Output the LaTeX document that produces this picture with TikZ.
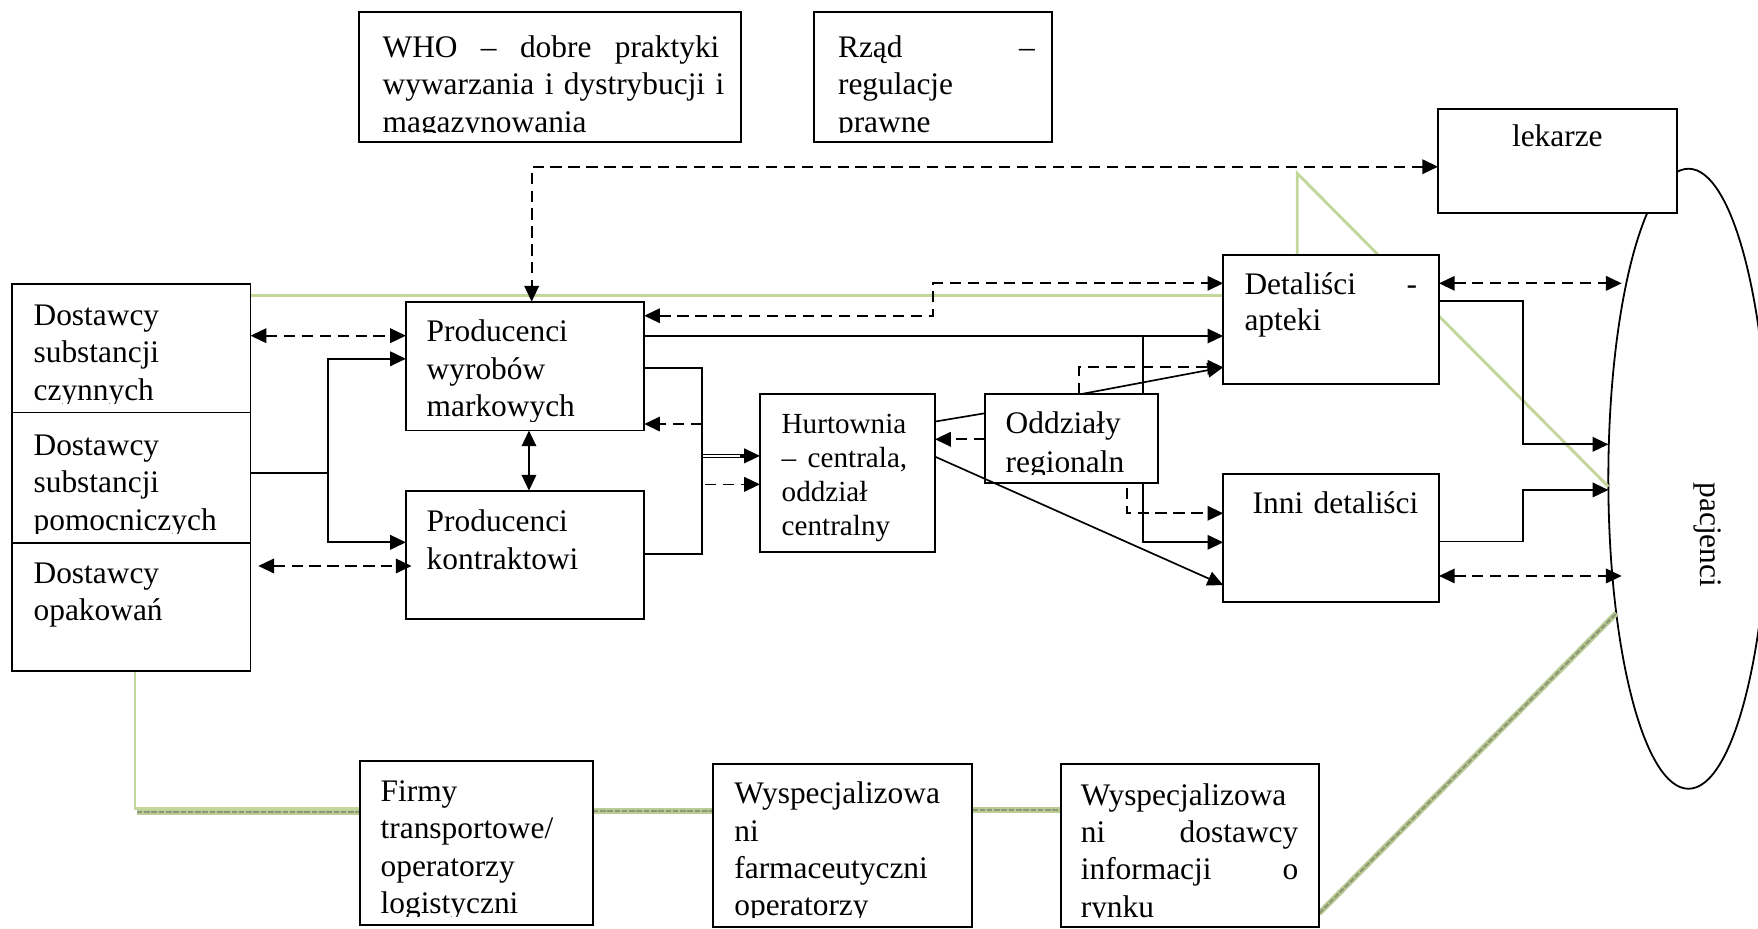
\documentclass[tikz,border=0pt]{standalone}
\usepackage{fontspec}
\setmainfont{Liberation Serif}
\usetikzlibrary{arrows.meta,shapes.geometric}
\pgfdeclarelayer{bg}
\pgfsetlayers{bg,main}
\definecolor{gthin}{RGB}{195,214,155}
\definecolor{gtexa}{RGB}{186,203,148}
\definecolor{gtexb}{RGB}{140,152,118}
\tikzset{
 bx/.style={draw, fill=white, line width=1.6pt, rectangle, inner sep=0pt, outer sep=0pt},
 txt/.style={anchor=base west, inner sep=0pt, outer sep=0pt, align=left, text width=330pt, font=\fontsize{28}{33.5}\selectfont},
 ln/.style={draw, line width=1.5pt},
 dsh/.style={ln, dash pattern=on 10pt off 6pt},
 arr/.style={-{Triangle[length=14pt,width=13pt]}},
 arrb/.style={{Triangle[length=14pt,width=13pt]}-{Triangle[length=14pt,width=13pt]}},
 gl/.style={draw=gthin, line width=2.6pt},
 txa/.style={draw=gtexa, line width=5pt},
 txb/.style={draw=gtexb, line width=2pt, dash pattern=on 5pt off 1.5pt},
}
\newcommand\mkbox[5]{\node[bx, minimum width={#4-#2}, minimum height={#5-#3}] (#1) at ({(#2+#4)/2},{(#3+#5)/2}) {};}
\newcommand\btext[4]{\begin{scope}\clip ([yshift=8pt]#1.south west) rectangle (#1.north east);\node[txt,#2] (#1t) at (#3) {#4};\end{scope}}
\newcommand\texline[2]{\draw[txa] #1 -- #2; \draw[txb] #1 -- #2;}
\begin{document}
\begin{tikzpicture}[x=1pt,y=-1pt]
\useasboundingbox (0,0) rectangle (1568,828);
% boxes
\mkbox{who}{320}{10.4}{661}{126.4}
\mkbox{rzad}{726}{10.4}{938}{126.4}
\mkbox{lek}{1282.6}{97}{1495.5}{189.7}
\mkbox{d1}{11}{253}{223.5}{368}
\mkbox{d2}{11}{368}{223.5}{484}
\mkbox{d3}{11}{484}{223.5}{598.5}
\mkbox{prodm}{362}{269}{574.6}{384}
\mkbox{prodk}{362}{437.6}{574.6}{552.4}
\mkbox{hurt}{677.8}{351.7}{834}{492.6}
\mkbox{odd}{878.5}{351.4}{1033}{431}
\mkbox{det}{1091}{227.4}{1283.5}{342.8}
\mkbox{inni}{1091}{422.8}{1283.5}{536.6}
\mkbox{firmy}{321}{678.7}{528.6}{825}
\mkbox{farm}{636.2}{681.4}{867.2}{826.5}
\mkbox{info}{946}{681.4}{1176.6}{826.5}
% background: white, ellipse, green lines
\begin{pgfonlayer}{bg}
\fill[white] (0,0) rectangle (1568,828);
\node[draw, ellipse, line width=1.6pt, minimum width=143pt, minimum height=553pt, inner sep=0pt, outer sep=0pt] (pac) at (1506,427) {};
\draw[gl] (d1.east |- 0,263.7) -- (det.west |- 0,263.7);
\draw[gl] (det.north -| 1157,0) -- (1157,154.6) -- (pac.west |- 0,434);
\draw[gl] (d3.south -| 120.4,0) -- (120.4,721) -- (firmy.west |- 0,721);
\texline{(122,724.5)}{(firmy.west |- 0,724.5)}
\texline{(firmy.east |- 0,723.3)}{(farm.west |- 0,723.3)}
\texline{(farm.east |- 0,722.4)}{(info.west |- 0,722.4)}
\texline{(info.east |- 0,814.6)}{(1441.6,547)}
\end{pgfonlayer}
% texts
\btext{who}{}{341.3,51}{\makebox[300.4pt]{WHO\hfill–\hfill dobre\hfill praktyki}\\wywarzania i dystrybucji i\\magazynowania}
\btext{rzad}{}{747.5,51}{\makebox[175.5pt]{Rząd\hfill–}\\regulacje\\prawne}
\node[anchor=base, inner sep=0pt, font=\fontsize{28}{33.5}\selectfont] (lekt) at (1389,130.8) {lekarze};
\btext{d1}{}{30,290}{Dostawcy\\substancji\\czynnych}
\btext{d2}{}{30,406}{Dostawcy\\substancji\\pomocniczych}
\btext{d3}{}{30,520}{Dostawcy\\opakowań}
\btext{prodm}{}{380.6,304.7}{Producenci\\wyrobów\\markowych}
\btext{prodk}{}{380.6,474}{Producenci\\kontraktowi}
\btext{hurt}{font=\fontsize{26}{30.3}\selectfont}{697.2,386.5}{Hurtownia\\\makebox[112pt]{–\hfill centrala,}\\oddział\\centralny}
\btext{odd}{font=\fontsize{28}{34}\selectfont}{897,387}{Oddziały\\regionaln}
\btext{det}{font=\fontsize{28}{31.8}\selectfont}{1110,263.1}{\makebox[154pt]{Detaliści\hfill -}\\apteki}
\btext{inni}{}{1117.3,457.8}{Inni detaliści}
\btext{firmy}{font=\fontsize{28}{33.3}\selectfont}{339.5,715}{Firmy\\transportowe/\\operatorzy\\logistyczni}
\btext{farm}{font=\fontsize{28}{33.3}\selectfont}{655,717}{Wyspecjalizowa\\ni\\farmaceutyczni\\operatorzy}
\btext{info}{font=\fontsize{28}{33.3}\selectfont}{964,718}{Wyspecjalizowa\\\makebox[194pt]{ni\hfill dostawcy}\\\makebox[194pt]{informacji\hfill o}\\rynku}
\node[rotate=-90, inner sep=0pt, font=\fontsize{28}{33.5}\selectfont] (pact) at (1523,477) {pacjenci};
% connectors
\coordinate (c3a) at (230.4,504.8);
\coordinate (j1) at (292.8,422);
\coordinate (j2) at (1019.7,299.7);
\coordinate (j3) at (626.4,406.6);
\coordinate (dl) at (660,406.6);
\coordinate (dk) at (628.8,432);
\coordinate (dm) at (626.4,378.2);
\coordinate (cd) at (1004.9,435.5);
\coordinate (ed) at (1446.4,252.7);
\coordinate (ei) at (1446.4,513.7);
\draw[dsh,arrb] (d1.east |- 0,299.4) -- (prodm.west |- 0,299.4);
\draw[ln] (d2.east |- j1) -- (j1);
\draw[ln,arr] (j1) |- (prodm.west |- 0,320);
\draw[ln,arr] (j1) |- (prodk.west |- 0,483.7);
\draw[dsh,arrb,shorten >=-5pt] (c3a) -- (prodk.west |- c3a);
\draw[ln,arrb] (prodm.south -| 471.8,0) -- (prodk.north -| 471.8,0);
\draw[dsh,arrb] (lek.west |- 0,148.7) -| (prodm.north -| 474.2,0);
\draw[dsh,arrb] (prodm.east |- 0,281.6) -- (832.4,281.6) -- (832.4,252.7) -- (det.west |- 0,252.7);
\draw[ln,arr] (prodm.east |- j2) -- (det.west |- j2);
\draw[ln] (j2) -- (odd.north -| j2);
\draw[ln,arr] (odd.south -| j2) |- (inni.west |- 0,483.7);
\draw[ln] (prodm.east |- 0,328) -| (626.4,494) -- (prodk.east |- 0,494);
\draw[line width=1.2pt] (626.4,405.2) -- (664,405.2) (626.4,408) -- (664,408);
\draw[ln,arr] (dl) -- (hurt.west |- dl);
\draw[dsh,arr] (dm) -- (prodm.east |- dm);
\draw[dsh,arr] (dk) -- (hurt.west |- dk);
\draw[ln] (odd.west |- 0,368.6) -- (hurt.east |- 0,376);
\draw[dsh,arr] (odd.west |- 0,391.8) -- (hurt.east |- 0,391.8);
\draw[ln,arr] (hurt.east |- 0,407.3) -- (inni.west |- 0,521.8);
\draw[ln,arr] (odd.north -| 964.7,0) -- (det.west |- 0,327.6);
\draw[dsh,arr] (odd.north -| 962.4,0) |- (det.west |- 0,327.6);
\draw[dsh,arr] (cd) |- (inni.west |- 0,457.8);
\draw[dsh,arrb] (det.east |- ed) -- (ed);
\draw[ln,arr] (det.east |- 0,268.5) -| (1358.6,396.3) -- (pac.west |- 0,396.3);
\draw[ln,arr] (inni.east |- 0,483) -| (1358.6,437) -- (pac.west |- 0,437);
\draw[dsh,arrb] (inni.east |- ei) -- (ei);
\end{tikzpicture}
\end{document}
